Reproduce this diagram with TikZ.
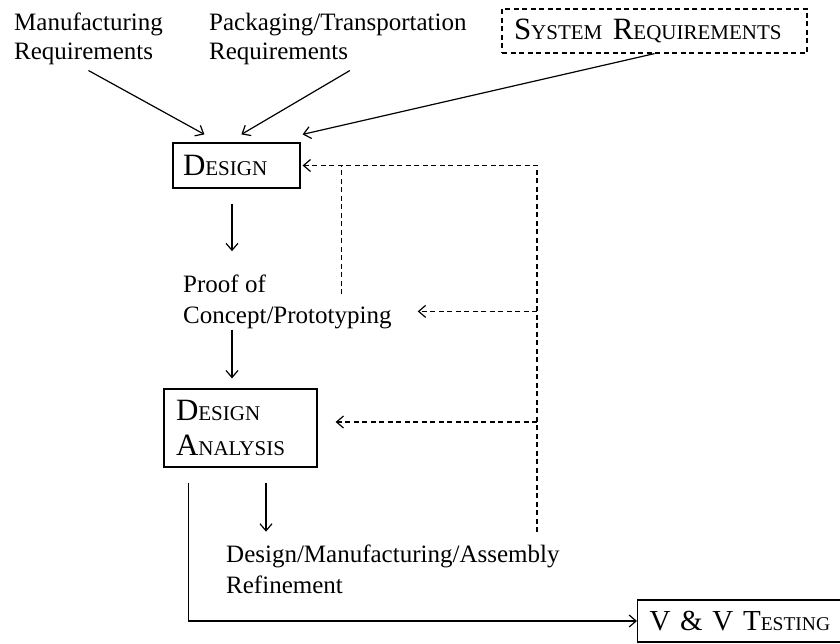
\documentclass[tikz,border=0pt]{standalone}
\usepackage{fontspec}
\setmainfont{Liberation Serif}
\usetikzlibrary{arrows.meta,calc}
\newcommand\smlcap[1]{{\fontsize{21}{25}\selectfont #1}}
\newcommand\vsmlcap[1]{{\fontsize{19.5}{23}\selectfont #1}}
\tikzset{
  lbl/.style={inner sep=0pt, anchor=base west, align=left},
  box/.style={draw, line width=1.2pt, inner ysep=0pt, align=left, anchor=center},
  conn/.style={line width=1.2pt},
  tip/.style={-{Straight Barb[length=7pt,width=12pt]}},
  arr/.style={conn, tip},
  dsh/.style={conn, dash pattern=on 5pt off 3.5pt},
}
\begin{document}
\begin{tikzpicture}[x=1pt,y=-1pt]
\useasboundingbox (0,0) rectangle (840,644);
\clip (0,0) rectangle (840,644);

\node[lbl, font=\fontsize{25}{29}\selectfont] (manuf) at (14,60) {Manufacturing\\Requirements};
\node[lbl, font=\fontsize{25}{29}\selectfont] (pack) at (209,60) {Packaging/Transportation\\Requirements};
\node[box, dash pattern=on 5pt off 3.5pt, text width=281pt, inner xsep=12pt, minimum height=44pt,
      font=\fontsize{31}{35}\selectfont] (sys) at (654.5,31) {S\smlcap{YSTEM} R\smlcap{EQUIREMENTS}};
\node[box, text width=107pt, inner xsep=10pt, minimum height=45pt,
      font=\fontsize{31}{35}\selectfont] (design) at (236.5,165.5) {D\smlcap{ESIGN}};
\node[lbl, font=\fontsize{25}{31}\selectfont] (proof) at (183,323) {Proof of\\Concept/Prototyping};
\node[box, text width=129pt, inner xsep=12pt, minimum height=78pt,
      font=\fontsize{31}{35}\selectfont] (da) at (240.5,428) {D\smlcap{ESIGN}\\A\smlcap{NALYSIS}};
\node[lbl, font=\fontsize{25}{31}\selectfont] (refine) at (226,593) {Design/Manufacturing/Assembly\\Refinement};
\node[box, anchor=west, text width=200pt, inner xsep=12pt, minimum height=42pt,
      font=\fontsize{29}{33}\selectfont] (vv) at (637,621) {V \& V T\vsmlcap{ESTING}};

% inputs to design
\draw[arr] ([yshift=-5pt]manuf.south) -- ($(design.north west)+(32,-8)$);
\draw[arr] ([xshift=12pt,yshift=-5pt]pack.south) -- ($(design.north west)+(69,-8)$);
\draw[arr] (sys.south) -- ($(design.north east)+(2,-8)$);

% main flow
\draw[arr] ($(design.south)+(-4.5,15)$) -- ($(design.south |- proof.north)+(-4.5,-23)$);
\draw[arr] ($(proof.south -| design.south)+(-4.5,1)$) -- ($(da.north -| design.south)+(-4.5,-10)$);
\draw[arr] ($(da.south)+(25.5,15)$) -- ($(da.south |- refine.north)+(25.5,-12.5)$);
\draw[arr] ($(da.south west)+(25,15)$) |- (vv.west);

% feedback
\coordinate (fbbot) at (537,532);
\coordinate (ptip) at ($(proof.east)+(26,10)$);
\coordinate (dtip) at ($(da.east)+(18,-6)$);
\coordinate (pup) at ($(proof.north east)+(-50,20)$);
\draw[dsh, tip] (fbbot) |- ($(design.east)+(2,0)$);
\draw[dsh, tip] (fbbot |- ptip) -- (ptip);
\draw[dsh, tip] (fbbot |- dtip) -- (dtip);
\draw[dsh] (pup) -- (pup |- design.east);
\end{tikzpicture}
\end{document}
